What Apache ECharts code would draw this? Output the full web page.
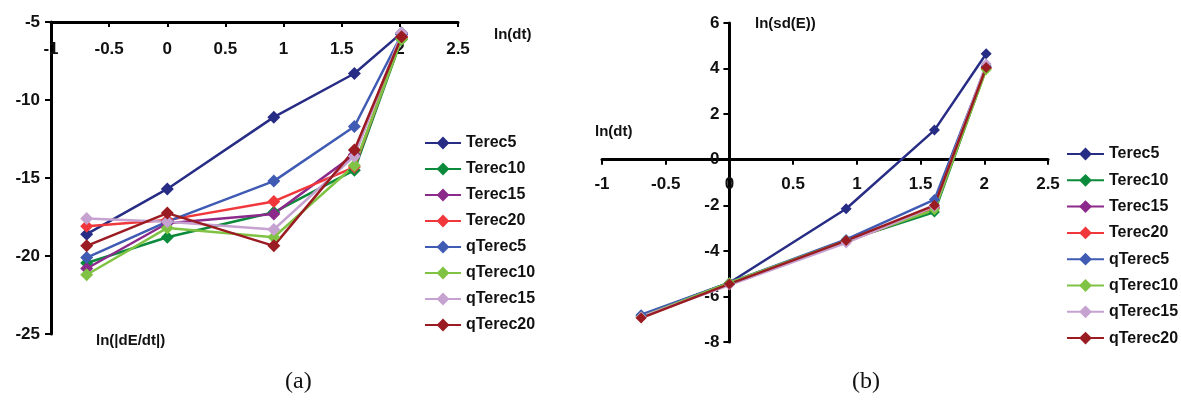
<!DOCTYPE html>
<html>
<head>
<meta charset="utf-8">
<script src="https://cdn.jsdelivr.net/npm/echarts@6/dist/echarts.min.js"></script>
<style>
html,body{margin:0;padding:0;background:#fff;}
#c{width:1181px;height:404px;}
</style>
</head>
<body>
<div id="c"></div>
<script>
// ---- data ----
const lnDt = [-0.693, 0, 0.916, 1.609, 2.015];
const seriesNames = ['Terec5','Terec10','Terec15','Terec20','qTerec5','qTerec10','qTerec15','qTerec20'];
const seriesColors = ['#272C85','#0C8A3C','#8C2A8C','#F0383C','#3F5BB3','#80C344','#C6A2D0','#9A1C22'];
// (a) ln(|dE/dt|)
const dEdt_Terec5   = [-18.6, -15.7, -11.1, -8.3, -5.7];
const dEdt_Terec10  = [-20.45, -18.8, -17.2, -14.5, -6.1];
const dEdt_Terec15  = [-20.8, -17.9, -17.3, -13.5, -5.8];
const dEdt_Terec20  = [-18.1, -17.7, -16.5, -14.3, -6.0];
const dEdt_qTerec5  = [-20.1, -17.8, -15.2, -11.7, -5.8];
const dEdt_qTerec10 = [-21.2, -18.2, -18.8, -14.2, -6.1];
const dEdt_qTerec15 = [-17.6, -17.8, -18.3, -13.6, -5.7];
const dEdt_qTerec20 = [-19.35, -17.25, -19.35, -13.2, -5.95];
// (b) ln(sd(E))
const sd_Terec5   = [-6.85, -5.4, -2.15, 1.3, 4.65];
const sd_Terec10  = [-6.85, -5.4, -3.55, -2.3, 4.0];
const sd_Terec15  = [-6.9, -5.45, -3.6, -2.1, 4.05];
const sd_Terec20  = [-6.9, -5.45, -3.6, -2.15, 4.0];
const sd_qTerec5  = [-6.8, -5.4, -3.5, -1.75, 4.1];
const sd_qTerec10 = [-6.9, -5.4, -3.55, -2.2, 3.95];
const sd_qTerec15 = [-6.9, -5.5, -3.65, -2.05, 4.2];
const sd_qTerec20 = [-6.95, -5.45, -3.55, -2.0, 4.05];

const aValues = [dEdt_Terec5,dEdt_Terec10,dEdt_Terec15,dEdt_Terec20,dEdt_qTerec5,dEdt_qTerec10,dEdt_qTerec15,dEdt_qTerec20];
const bValues = [sd_Terec5,sd_Terec10,sd_Terec15,sd_Terec20,sd_qTerec5,sd_qTerec10,sd_qTerec15,sd_qTerec20];

const FONT = '"Liberation Sans", Arial, sans-serif';
const lab = {fontFamily: FONT, fontWeight: 'bold', fontSize: 17, color: '#111'};

function mk(vals, gi, sz) {
  return vals.map((v, i) => ({
    name: seriesNames[i],
    type: 'line',
    xAxisIndex: gi, yAxisIndex: gi,
    data: v.map((y, k) => [lnDt[k], y]),
    symbol: 'diamond',
    symbolSize: sz,
    showSymbol: true,
    color: seriesColors[i],
    lineStyle: {width: 2.5, color: seriesColors[i]},
    itemStyle: {color: seriesColors[i]},
    animation: false
  }));
}

// right panel geometry: axes cross at (0,0)
const bTop = 23, bH = 319, bMin = -8, bMax = 6;
const bLeft = 602, bW = 446, bXMin = -1, bXMax = 2.5;
const bXOffset = -bH * (0 - bMin) / (bMax - bMin);
const bYOffset = -bW * (0 - bXMin) / (bXMax - bXMin);

const chart = echarts.init(document.getElementById('c'), null, {renderer: 'canvas'});
chart.setOption({
  backgroundColor: '#fff',
  animation: false,
  grid: [
    {left: 51, top: 22, width: 407, height: 312, containLabel: false},
    {left: bLeft, top: bTop, width: bW, height: bH, containLabel: false}
  ],
  xAxis: [
    {type: 'value', gridIndex: 0, position: 'top', min: -1, max: 2.5, interval: 0.5,
     axisLine: {show: true, onZero: false, lineStyle: {color: '#000', width: 3}},
     axisTick: {show: true, inside: true, length: 5, lineStyle: {color: '#000', width: 2}},
     axisLabel: Object.assign({inside: true, margin: 19, showMinLabel: true, showMaxLabel: true}, lab),
     splitLine: {show: false}},
    {type: 'value', gridIndex: 1, position: 'bottom', offset: bXOffset, min: bXMin, max: bXMax, interval: 0.5,
     axisLine: {show: true, onZero: false, lineStyle: {color: '#000', width: 3}},
     axisTick: {show: true, length: 5, lineStyle: {color: '#000', width: 2}},
     axisLabel: Object.assign({margin: 16, showMinLabel: true, showMaxLabel: true}, lab),
     splitLine: {show: false}}
  ],
  yAxis: [
    {type: 'value', gridIndex: 0, min: -25, max: -5, interval: 5,
     axisLine: {show: true, onZero: false, lineStyle: {color: '#000', width: 3}},
     axisTick: {show: true, length: 6, lineStyle: {color: '#000', width: 2}},
     axisLabel: Object.assign({margin: 11}, lab),
     splitLine: {show: false}},
    {type: 'value', gridIndex: 1, position: 'left', offset: bYOffset, min: bMin, max: bMax, interval: 2,
     axisLine: {show: true, onZero: false, lineStyle: {color: '#000', width: 3}},
     axisTick: {show: true, length: 6, lineStyle: {color: '#000', width: 2}},
     axisLabel: Object.assign({margin: 10}, lab),
     splitLine: {show: false}}
  ],
  legend: [
    {orient: 'vertical', left: 424, top: 135, padding: 0, itemWidth: 36, itemHeight: 16, itemGap: 10,
     data: seriesNames, textStyle: {fontFamily: FONT, fontWeight: 'bold', fontSize: 16, color: '#111'},
     selectedMode: false},
    {orient: 'vertical', left: 1066, top: 146, padding: 0, itemWidth: 37, itemHeight: 16, itemGap: 10.3,
     data: seriesNames, textStyle: {fontFamily: FONT, fontWeight: 'bold', fontSize: 16, color: '#111'},
     selectedMode: false}
  ],
  graphic: [
    {type: 'text', left: 494, top: 27, style: {text: 'ln(dt)', font: 'bold 15px ' + FONT, fill: '#111'}},
    {type: 'text', left: 96, top: 333, style: {text: 'ln(|dE/dt|)', font: 'bold 15px ' + FONT, fill: '#111'}},
    {type: 'text', left: 595, top: 124, style: {text: 'ln(dt)', font: 'bold 15px ' + FONT, fill: '#111'}},
    {type: 'text', left: 755, top: 16, style: {text: 'ln(sd(E))', font: 'bold 15px ' + FONT, fill: '#111'}},
    {type: 'text', left: 285, top: 370, style: {text: '(a)', font: '24px "Liberation Serif", "Times New Roman", serif', fill: '#111'}},
    {type: 'text', left: 852, top: 370, style: {text: '(b)', font: '24px "Liberation Serif", "Times New Roman", serif', fill: '#111'}}
  ],
  series: mk(aValues, 0, 13).concat(mk(bValues, 1, 11))
});
</script>
</body>
</html>
